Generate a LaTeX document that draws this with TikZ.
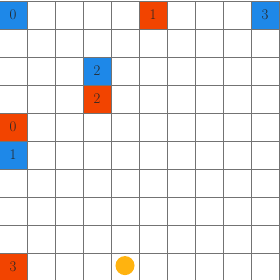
\documentclass[tikz,border=0pt]{standalone}
\usepackage{tikz}
\definecolor{teamblue}{HTML}{1E88E8}
\definecolor{teamred}{HTML}{F24400}
\definecolor{ballgold}{HTML}{FFB30F}

\begin{document}
\begin{tikzpicture}[
        base/.style    ={minimum size=1cm, inner sep=0pt, text=black!85,
                         font=\fontsize{15}{15}\selectfont},
        blueteam/.style={base, fill=teamblue},
        redteam/.style ={base, fill=teamred},
        ball/.style    ={circle, fill=ballgold, minimum size=0.68cm, inner sep=0pt},
        gridline/.style={black!55, line width=0.6pt}
    ]
    \useasboundingbox (1/28,1/28) rectangle (10+1/28,10+1/28);

    % --- agents ---
    \node[blueteam] (b0) at (0.5,9.5) {0};
    \node[redteam]  (r1) at (5.5,9.5) {1};
    \node[blueteam] (b3) at (9.5,9.5) {3};
    \node[blueteam] (b2) at (3.5,7.5) {2};
    \node[redteam]  (r2) at (3.5,6.5) {2};
    \node[redteam]  (r0) at (0.5,5.5) {0};
    \node[blueteam] (b1) at (0.5,4.5) {1};
    \node[redteam]  (r3) at (0.5,0.5) {3};

    \node[ball] (ball) at (4.5,0.55) {};

    % --- grid ---
    \draw[gridline] (0,0) grid (10,10);

\end{tikzpicture}
\end{document}
